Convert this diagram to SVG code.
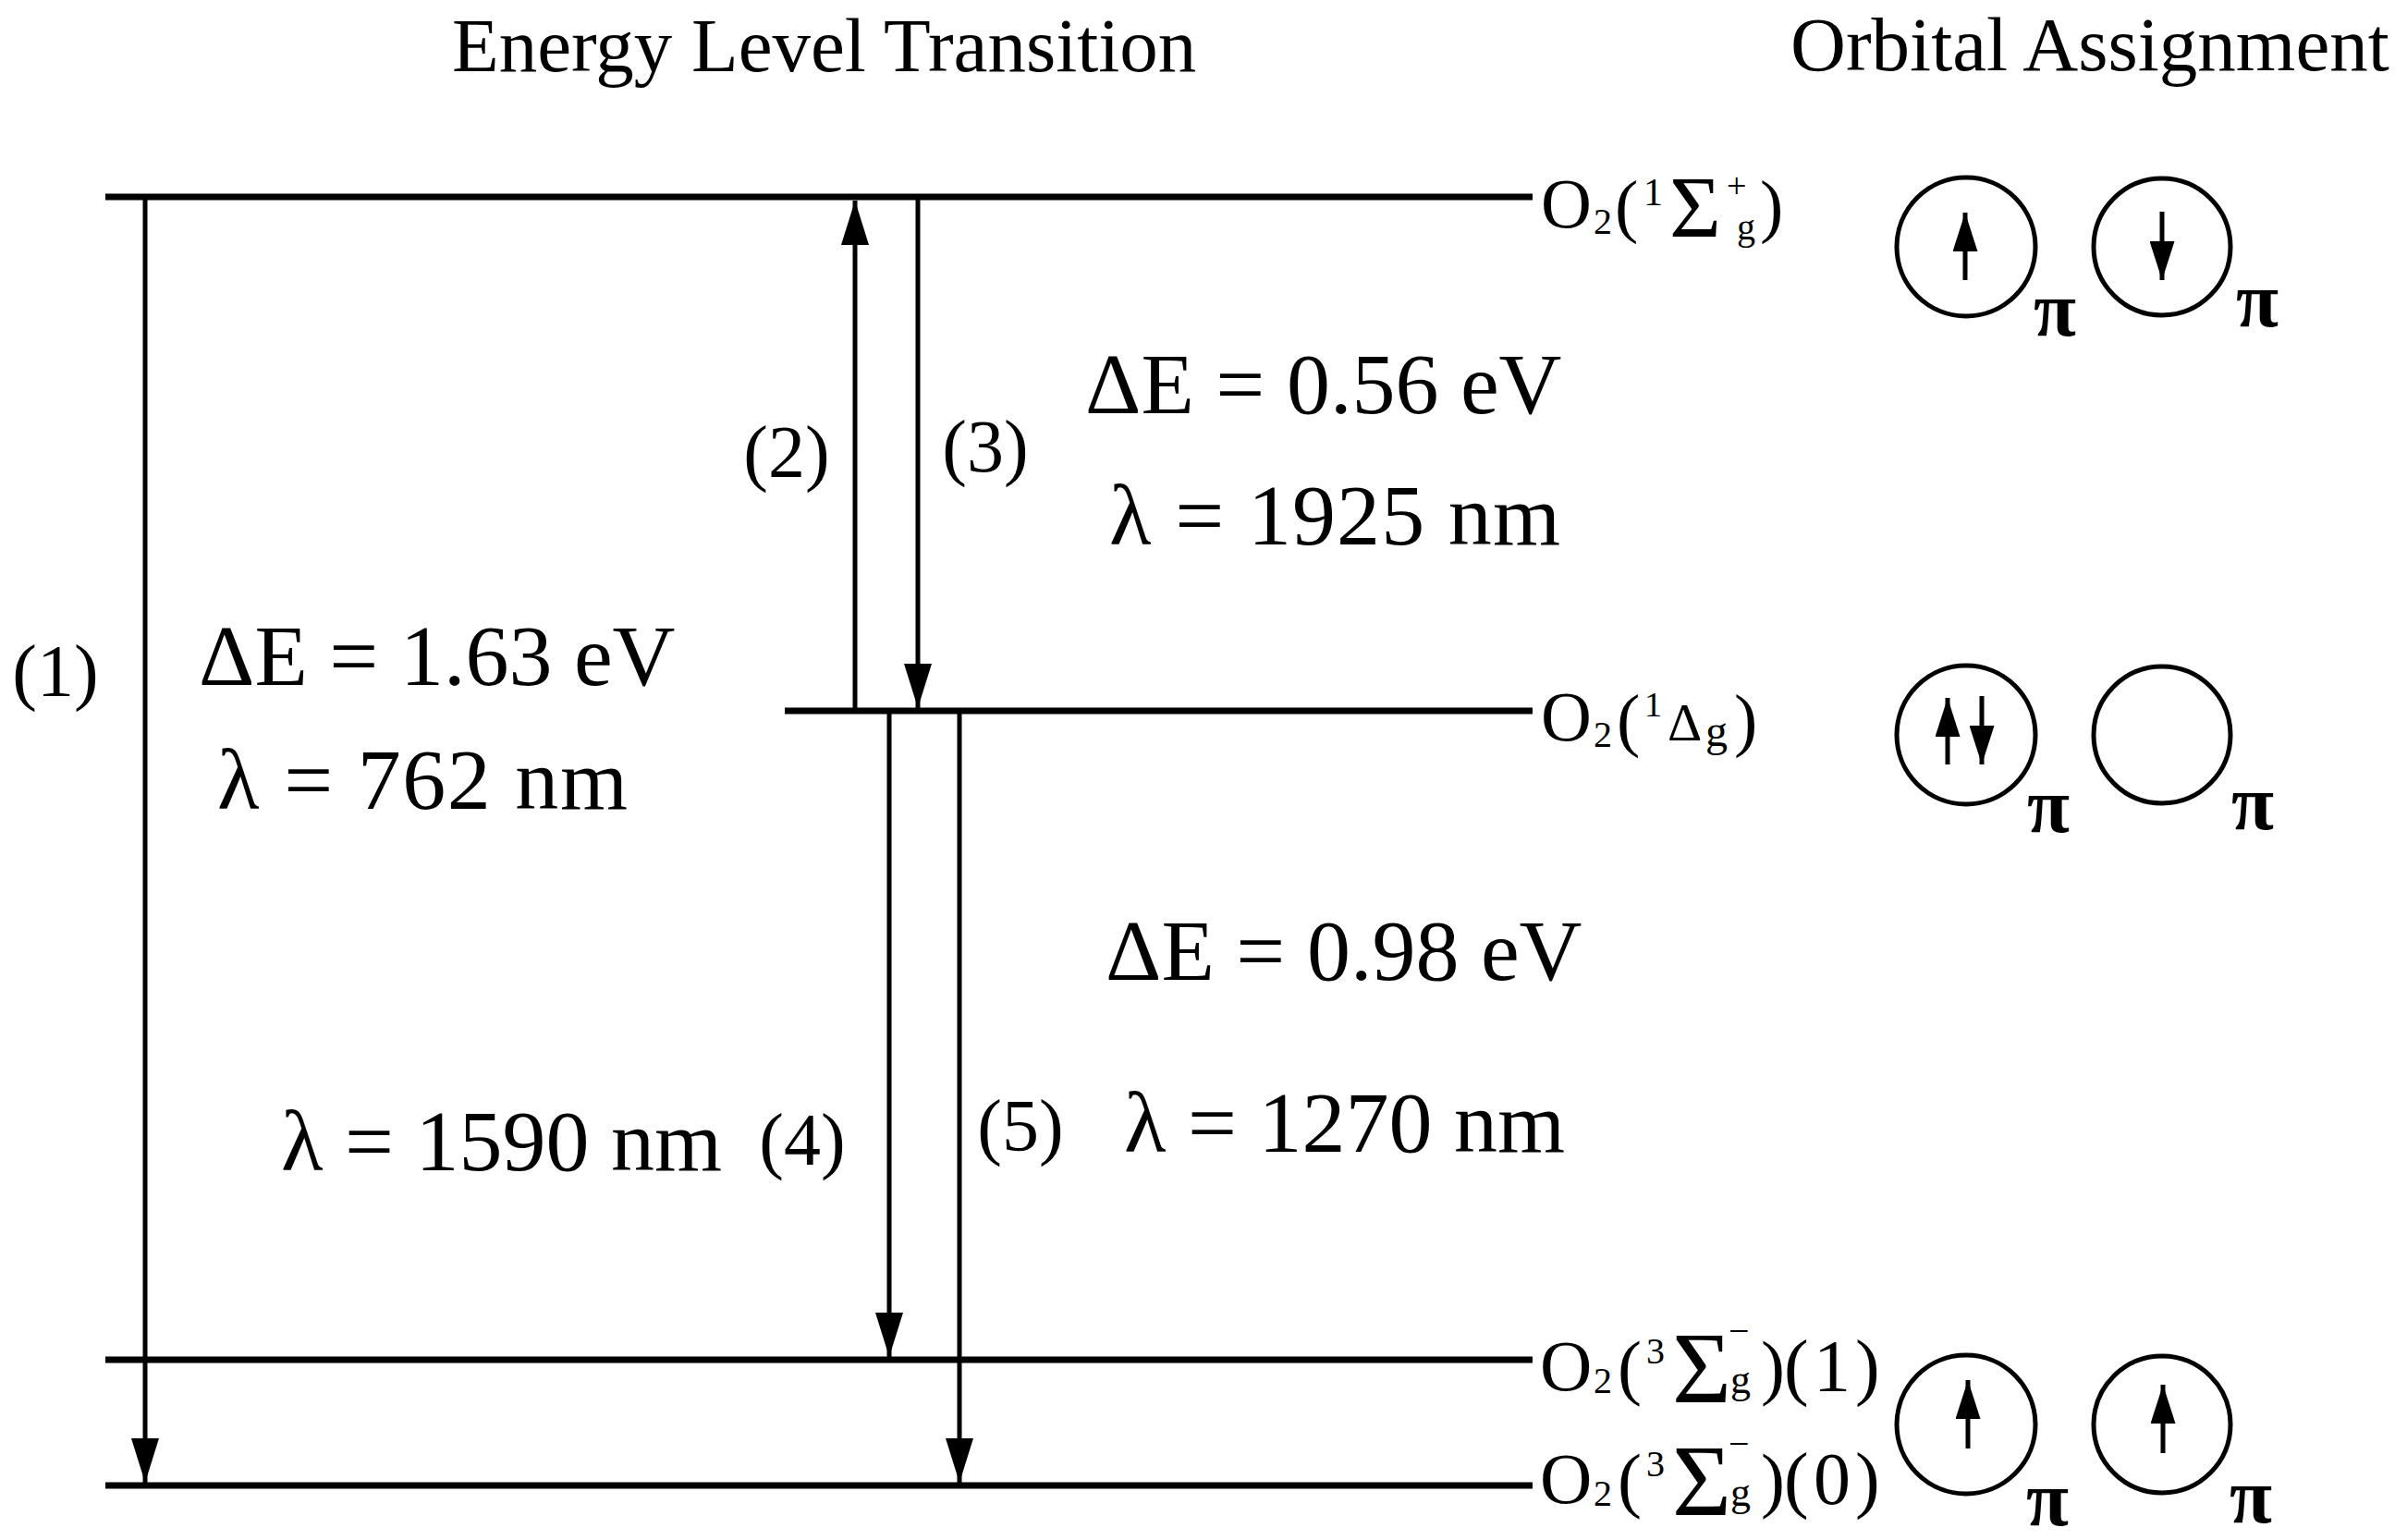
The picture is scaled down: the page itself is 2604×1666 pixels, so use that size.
<svg xmlns="http://www.w3.org/2000/svg" width="2604" height="1666" viewBox="0 0 2604 1666">
<style>
text{font-family:"Liberation Serif","Times New Roman",serif;fill:#000}
.lvl{stroke:#000;stroke-width:7;fill:none}
.tr{stroke:#000;stroke-width:5;fill:none}
.orb{stroke:#000;stroke-width:5;fill:#fff}
.spin{stroke:#000;stroke-width:5;fill:none}
.big{font-size:94px}
.num{font-size:80px}
.title{font-size:83px}
.pi{font-size:84px;font-weight:bold}
</style>
<defs>
<marker id="ah" viewBox="0 0 48 30" refX="48" refY="15" markerWidth="48" markerHeight="30" markerUnits="userSpaceOnUse" orient="auto">
<path d="M0,0 L48,15 L0,30 Z" fill="#000"/>
</marker>
<marker id="sh" viewBox="0 0 42 27" refX="42" refY="13.5" markerWidth="42" markerHeight="27" markerUnits="userSpaceOnUse" orient="auto">
<path d="M0,0 L42,13.5 L0,27 Z" fill="#000"/>
</marker>
</defs>
<rect width="2604" height="1666" fill="#fff"/>

<g id="titles">
<text class="title" x="489" y="77">Energy Level Transition</text>
<text class="title" x="1937" y="76">Orbital Assignment</text>
</g>

<g id="level-singlet-sigma">
<line class="lvl" x1="114" y1="213" x2="1658" y2="213"/>
<text><tspan x="1667" y="246" font-size="76">O</tspan><tspan x="1724" y="253" font-size="40">2</tspan><tspan x="1747" y="248" font-size="76">(</tspan><tspan x="1778" y="222" font-size="42">1</tspan><tspan x="1806" y="257" font-size="96">Σ</tspan><tspan x="1868" y="214" font-size="38">+</tspan><tspan x="1879" y="259" font-size="40">g</tspan><tspan x="1904" y="248" font-size="76">)</tspan></text>
</g>

<g id="level-singlet-delta">
<line class="lvl" x1="849" y1="769" x2="1658" y2="769"/>
<text><tspan x="1667" y="801" font-size="76">O</tspan><tspan x="1724" y="808" font-size="40">2</tspan><tspan x="1749" y="804" font-size="76">(</tspan><tspan x="1779" y="775" font-size="38">1</tspan><tspan x="1804" y="801" font-size="58">Δ</tspan><tspan x="1845" y="807" font-size="48">g</tspan><tspan x="1876" y="804" font-size="76">)</tspan></text>
</g>

<g id="level-triplet-v1">
<line class="lvl" x1="114" y1="1471" x2="1658" y2="1471"/>
<text><tspan x="1666" y="1504" font-size="78">O</tspan><tspan x="1724" y="1507" font-size="40">2</tspan><tspan x="1750" y="1505" font-size="78">(</tspan><tspan x="1781" y="1475" font-size="40">3</tspan><tspan x="1809" y="1517" font-size="110">Σ</tspan><tspan x="1870" y="1453" font-size="40">−</tspan><tspan x="1872" y="1507" font-size="44">g</tspan><tspan x="1905" y="1505" font-size="78">)</tspan><tspan x="1930 1962 2007" y="1505" font-size="80">(1)</tspan></text>
</g>

<g id="level-triplet-v0">
<line class="lvl" x1="114" y1="1607" x2="1658" y2="1607"/>
<text><tspan x="1666" y="1626" font-size="78">O</tspan><tspan x="1724" y="1629" font-size="40">2</tspan><tspan x="1750" y="1627" font-size="78">(</tspan><tspan x="1781" y="1597" font-size="40">3</tspan><tspan x="1809" y="1639" font-size="110">Σ</tspan><tspan x="1870" y="1575" font-size="40">−</tspan><tspan x="1872" y="1629" font-size="44">g</tspan><tspan x="1905" y="1627" font-size="78">)</tspan><tspan x="1930 1962 2007" y="1627" font-size="80">(0)</tspan></text>
</g>

<g id="connectors">
<line class="tr" x1="157" y1="210" x2="157" y2="1604" marker-end="url(#ah)"/>
<line class="tr" x1="925" y1="772" x2="925" y2="217" marker-end="url(#ah)"/>
<line class="tr" x1="993" y1="210" x2="993" y2="766" marker-end="url(#ah)"/>
<line class="tr" x1="962" y1="766" x2="962" y2="1468" marker-end="url(#ah)"/>
<line class="tr" x1="1038" y1="766" x2="1038" y2="1604" marker-end="url(#ah)"/>
</g>

<g id="transition-labels">
<text class="num" x="60" y="753" text-anchor="middle">(1)</text>
<text class="num" x="851" y="516" text-anchor="middle">(2)</text>
<text class="num" x="1066" y="510" text-anchor="middle">(3)</text>
<text class="num" x="868" y="1260" text-anchor="middle">(4)</text>
<text class="num" x="1104" y="1245" text-anchor="middle">(5)</text>
<text class="big" x="1174" y="447">ΔE = 0.56 eV</text>
<text class="big" x="1200" y="589" textLength="488">λ = 1925 nm</text>
<text class="big" x="215" y="741">ΔE = 1.63 eV</text>
<text class="big" x="235" y="875" textLength="444">λ = 762 nm</text>
<text class="big" x="1196" y="1060">ΔE = 0.98 eV</text>
<text class="big" x="1216" y="1246">λ = 1270 nm</text>
<text class="big" x="304" y="1266">λ = 1590 nm</text>
</g>

<g id="orbitals-singlet-sigma">
<circle class="orb" cx="2127" cy="267" r="75"/>
<circle class="orb" cx="2339" cy="267" r="74"/>
<line class="spin" x1="2126" y1="303" x2="2126" y2="230" marker-end="url(#sh)"/>
<line class="spin" x1="2339" y1="229" x2="2339" y2="303" marker-end="url(#sh)"/>
<text class="pi" x="2223" y="363" text-anchor="middle">π</text>
<text class="pi" x="2442" y="353" text-anchor="middle">π</text>
</g>

<g id="orbitals-singlet-delta">
<circle class="orb" cx="2127" cy="795" r="75"/>
<circle class="orb" cx="2339" cy="795" r="74"/>
<line class="spin" x1="2107" y1="827" x2="2107" y2="755" marker-end="url(#sh)"/>
<line class="spin" x1="2144" y1="753" x2="2144" y2="827" marker-end="url(#sh)"/>
<text class="pi" x="2216" y="900" text-anchor="middle">π</text>
<text class="pi" x="2437" y="897" text-anchor="middle">π</text>
</g>

<g id="orbitals-triplet">
<circle class="orb" cx="2127" cy="1541" r="75"/>
<circle class="orb" cx="2339" cy="1541" r="74"/>
<line class="spin" x1="2129" y1="1567" x2="2129" y2="1493" marker-end="url(#sh)"/>
<line class="spin" x1="2340" y1="1572" x2="2340" y2="1498" marker-end="url(#sh)"/>
<text class="pi" x="2215" y="1650" text-anchor="middle">π</text>
<text class="pi" x="2435" y="1647" text-anchor="middle">π</text>
</g>
</svg>
